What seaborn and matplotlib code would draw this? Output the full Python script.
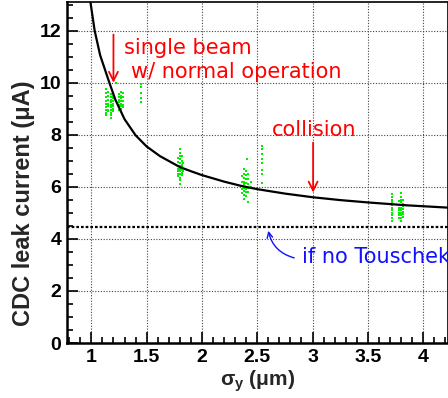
import matplotlib
matplotlib.use("Agg")
import matplotlib.pyplot as plt
import seaborn as sns
import pandas as pd
from matplotlib.ticker import MultipleLocator, FixedLocator

# ---------------- data ----------------
# fitted curve (sigma_y in um, leak current in uA)
curve_sigma = [0.99, 1.03, 1.08, 1.163, 1.217, 1.30, 1.40, 1.50, 1.62, 1.80, 1.90,
               2.00, 2.20, 2.35, 2.50, 2.75, 3.00, 3.25, 3.50, 3.85, 4.225]
curve_current = [13.15, 12.0, 11.05, 10.0, 9.35, 8.60, 7.98, 7.55, 7.18, 6.76, 6.60,
                 6.45, 6.20, 6.04, 5.91, 5.74, 5.60, 5.49, 5.40, 5.29, 5.20]

# measured points
meas_sigma = [
    # ~1.1-1.3 (single beam)
    1.13, 1.13, 1.13, 1.13, 1.13, 1.13, 1.13, 1.13, 1.13,
    1.15, 1.15, 1.15, 1.15, 1.15, 1.15, 1.15,
    1.18, 1.18, 1.18, 1.18, 1.18, 1.18, 1.18, 1.18, 1.18, 1.18,
    1.20, 1.20, 1.20, 1.20, 1.20, 1.20, 1.20, 1.20,
    1.22,
    1.25, 1.25, 1.25, 1.25, 1.25, 1.25, 1.25,
    1.27, 1.27, 1.27, 1.27, 1.27, 1.27, 1.27, 1.27,
    1.29, 1.29, 1.29, 1.29, 1.29,
    1.445, 1.445, 1.445, 1.445, 1.445,
    # ~1.8
    1.78, 1.78, 1.78, 1.78, 1.78, 1.78, 1.78,
    1.80, 1.80, 1.80, 1.80, 1.80, 1.80, 1.80, 1.80, 1.80, 1.80, 1.80, 1.80,
    1.82, 1.82, 1.82, 1.82, 1.82, 1.82, 1.82,
    1.83, 1.83,
    # ~2.4
    2.36, 2.36, 2.36, 2.36, 2.36,
    2.38, 2.38, 2.38, 2.38, 2.38, 2.38, 2.38, 2.38, 2.38,
    2.41, 2.40, 2.40, 2.40, 2.40, 2.40, 2.40, 2.40, 2.40,
    2.42, 2.42, 2.42, 2.42, 2.42, 2.42,
    2.44, 2.44,
    2.54, 2.54, 2.54, 2.54, 2.54, 2.54, 2.54, 2.54,
    # ~3.75
    3.72, 3.72, 3.72, 3.72, 3.72, 3.72, 3.72, 3.72, 3.72, 3.72, 3.72,
    3.78, 3.78, 3.78, 3.78, 3.78, 3.78, 3.78,
    3.80, 3.80, 3.80, 3.80, 3.80, 3.80, 3.80, 3.80, 3.80, 3.80, 3.80,
    3.82, 3.82, 3.82, 3.82, 3.82, 3.82, 3.82,
]
meas_current = [
    9.75, 9.6, 9.45, 9.3, 9.2, 9.05, 8.95, 8.85, 8.75,
    9.65, 9.5, 9.35, 9.2, 9.1, 8.95, 8.9,
    9.55, 9.45, 9.35, 9.25, 9.15, 9.05, 8.95, 8.85, 8.75, 8.65,
    9.6, 9.5, 9.4, 9.3, 9.2, 9.1, 9.0, 8.9,
    10.0,
    9.55, 9.45, 9.35, 9.25, 9.15, 9.05, 8.95,
    9.65, 9.5, 9.4, 9.3, 9.2, 9.1, 9.0, 8.9,
    9.6, 9.45, 9.3, 9.15, 9.05,
    9.95, 9.85, 9.6, 9.4, 9.25,
    7.1, 6.95, 6.8, 6.7, 6.6, 6.5, 6.4,
    7.45, 7.3, 7.2, 7.05, 6.9, 6.8, 6.7, 6.6, 6.5, 6.35, 6.25, 6.1,
    7.2, 7.0, 6.85, 6.75, 6.65, 6.55, 6.45,
    6.9, 6.6,
    6.4, 6.2, 6.05, 5.9, 5.75,
    6.7, 6.5, 6.35, 6.2, 6.1, 5.95, 5.85, 5.7, 5.55,
    7.07, 6.6, 6.45, 6.3, 6.15, 6.0, 5.9, 5.8, 5.65,
    6.5, 6.3, 6.1, 5.95, 5.8, 5.4,
    6.2, 6.0,
    7.55, 7.45, 7.25, 7.05, 6.9, 6.65, 6.5, 6.15,
    5.72, 5.6, 5.5, 5.4, 5.3, 5.2, 5.1, 5.0, 4.9, 4.8, 4.7,
    5.45, 5.3, 5.2, 5.1, 5.0, 4.9, 4.8,
    5.75, 5.6, 5.5, 5.4, 5.3, 5.2, 5.1, 5.0, 4.9, 4.8, 4.7,
    5.5, 5.35, 5.25, 5.15, 5.05, 4.95, 4.85,
]

no_touschek_level = 4.47
x_tick_values = [1, 1.5, 2, 2.5, 3, 3.5, 4]
x_tick_labels = ["1", "1.5", "2", "2.5", "3", "3.5", "4"]
y_tick_values = [0, 2, 4, 6, 8, 10, 12]
y_tick_labels = ["0", "2", "4", "6", "8", "10", "12"]

# ---------------- plotting ----------------
sns.set_style("white")
plt.rcParams["font.family"] = ["Liberation Sans", "DejaVu Sans"]
plt.rcParams["mathtext.fontset"] = "custom"
plt.rcParams["mathtext.rm"] = "Liberation Sans"
plt.rcParams["mathtext.bf"] = "Liberation Sans:bold"
plt.rcParams["mathtext.it"] = "Liberation Sans:italic"

fig = plt.figure(figsize=(4.48, 3.98), dpi=100)
ax = fig.add_axes([67 / 448, 55 / 398, 380.5 / 448, 341 / 398])

curve_df = pd.DataFrame({"sigma": curve_sigma, "current": curve_current})
meas_df = pd.DataFrame({"sigma": meas_sigma, "current": meas_current})

ax.axhline(no_touschek_level, color="black", lw=1.6, ls=(0, (1.2, 0.9)), zorder=2)
sns.scatterplot(data=meas_df, x="sigma", y="current", ax=ax, marker="s", s=3.2,
                color="#00ee00", linewidth=0, zorder=3)
sns.lineplot(data=curve_df, x="sigma", y="current", ax=ax, color="black", lw=1.6,
             sort=True, estimator=None, zorder=4)

ax.set_xlim(0.78, 4.22)
ax.set_ylim(0, 13.1)
ax.xaxis.set_major_locator(FixedLocator(x_tick_values))
ax.set_xticklabels(x_tick_labels)
ax.xaxis.set_minor_locator(MultipleLocator(0.1))
ax.yaxis.set_major_locator(FixedLocator(y_tick_values))
ax.set_yticklabels(y_tick_labels)
ax.yaxis.set_minor_locator(MultipleLocator(0.5))

ax.grid(True, which="major", color="#444444", lw=0.8, ls=(0, (1, 1.5)))
ax.tick_params(which="both", direction="in", left=True, bottom=True, top=False,
               right=False, width=1.2, colors="black")
ax.tick_params(which="major", length=8, labelsize=14, pad=4)
ax.tick_params(which="minor", length=4)
for lab in ax.get_xticklabels() + ax.get_yticklabels():
    lab.set_fontweight("bold")

for side in ["left", "bottom"]:
    ax.spines[side].set_linewidth(1.8)
for side in ["top", "right"]:
    ax.spines[side].set_linewidth(1.2)
for sp in ax.spines.values():
    sp.set_color("black")
    sp.set_visible(True)

ax.set_xlabel(r"σ$_\mathbf{y}$ (μm)", fontsize=15, fontweight="bold")
ax.xaxis.set_label_coords(0.5, -0.075)
ax.set_ylabel("CDC leak current (μA)", fontsize=17, fontweight="bold")
ax.yaxis.set_label_coords(-0.085, 0.41)

# annotations
red = "#ff0000"
blue = "#1010ff"
ax.annotate("", xy=(1.2, 10.0), xytext=(1.2, 11.85),
            arrowprops=dict(arrowstyle="->", color=red, lw=1.3, mutation_scale=16,
                            shrinkA=0, shrinkB=0))
ax.text(1.298, 11.35, "single beam", color=red, fontsize=15, va="center", ha="left",
        family=["DejaVu Sans"])
ax.text(1.361, 10.42, "w/ normal operation", color=red, fontsize=15, va="center",
        ha="left", family=["DejaVu Sans"])
ax.text(3.015, 8.19, "collision", color=red, fontsize=15, va="center", ha="center",
        family=["DejaVu Sans"])
ax.annotate("", xy=(3.005, 5.78), xytext=(3.005, 7.70),
            arrowprops=dict(arrowstyle="->", color=red, lw=1.3, mutation_scale=16,
                            shrinkA=0, shrinkB=0))
ax.text(2.906, 3.31, "if no Touschek", color=blue, fontsize=15, va="center",
        ha="left", family=["DejaVu Sans"], clip_on=False)
ax.annotate("", xy=(2.6, 4.31), xytext=(2.834, 3.27),
            arrowprops=dict(arrowstyle="->", color=blue, lw=1.0, mutation_scale=10,
                            shrinkA=0, shrinkB=0, connectionstyle="arc3,rad=-0.3"))

fig.savefig("out.png", dpi=100)
